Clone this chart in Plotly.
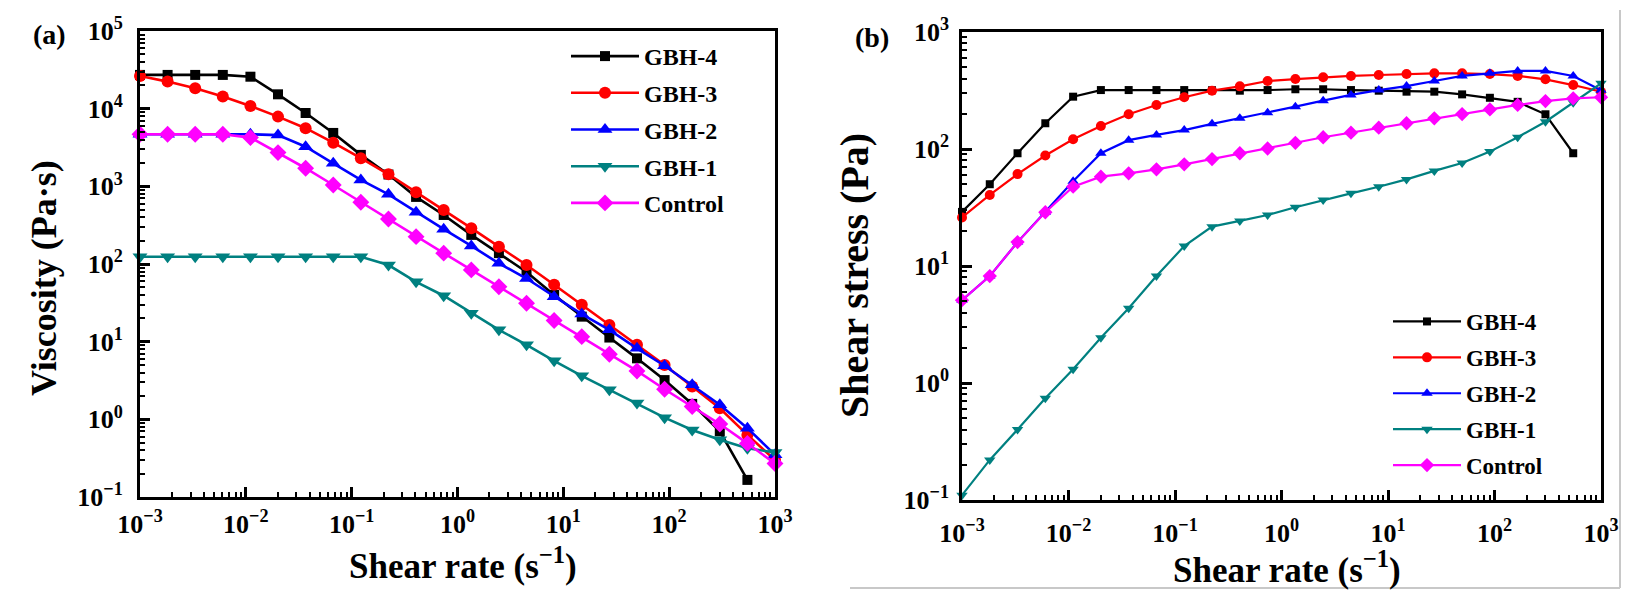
import plotly.graph_objects as go

W, H = 1625, 599

# ---------------- data ----------------
shear_rate = [0.001, 0.001823, 0.003323, 0.006058, 0.01105, 0.02014, 0.03673, 0.06697,
              0.1221, 0.2227, 0.4061, 0.7405, 1.350, 2.462, 4.490, 8.187, 14.93, 27.22,
              49.64, 90.51, 165.0, 300.9, 548.6, 1000.0]

series_names = ["GBH-4", "GBH-3", "GBH-2", "GBH-1", "Control"]

# (a) viscosity, Pa·s
visc_gbh4 = [27200, 27200, 27200, 27200, 25800, 15300, 8800, 4870, 2540, 1420, 731, 428, 237,
             138, 79, 40, 21, 11.3, 6.1, 3.2, 1.58, 0.70, 0.166]
visc_gbh3 = [26400, 22300, 18300, 14300, 10800, 7900, 5600, 3650, 2300, 1430, 840, 497, 289,
             167, 97, 54, 29.8, 16.4, 9.1, 5.0, 2.65, 1.39, 0.63, 0.30]
visc_gbh2 = [4680, 4680, 4680, 4680, 4680, 4570, 3240, 1980, 1210, 790, 465, 281, 171,
             102, 65, 38, 22.7, 14.2, 8.2, 4.9, 2.78, 1.54, 0.77, 0.35]
visc_gbh1 = [124, 124, 124, 124, 124, 124, 124, 124, 124, 97, 59, 39, 23.3,
             14.2, 9.1, 5.66, 3.63, 2.40, 1.62, 1.05, 0.73, 0.545, 0.425, 0.374]
visc_control = [4680, 4680, 4680, 4680, 4240, 2720, 1710, 1040, 624, 380, 225, 138, 84,
                51, 31.3, 18.7, 11.6, 6.9, 4.2, 2.44, 1.46, 0.87, 0.49, 0.27]

# (b) shear stress, Pa
stress_gbh4 = [29, 50, 92, 166, 280, 319, 319, 319, 319, 318, 315, 319, 324,
               324, 319, 315, 309, 309, 293, 274, 253, 198, 92]
stress_gbh3 = [26, 40.5, 61, 88, 121, 157, 198, 238, 277, 315, 343, 381, 396,
               410, 421, 429, 437, 443, 443, 437, 421, 394, 352, 309]
stress_gbh2 = [5.1, 8.2, 16, 28.8, 53, 92, 119, 132, 145, 164, 183, 204, 230,
               259, 290, 319, 345, 381, 421, 443, 465, 465, 421, 318]
stress_gbh1 = [0.11, 0.22, 0.40, 0.74, 1.31, 2.44, 4.35, 8.2, 14.8, 21.7, 24.3, 27.3, 31.8,
               36.7, 41.8, 47.6, 55, 65, 76, 95, 126, 171, 249, 364]
stress_control = [5.1, 8.2, 16, 28.8, 47.6, 58, 62, 67, 74, 82, 92, 101, 113,
                  126, 138, 152, 166, 183, 199, 218, 238, 257, 271, 277]

x_tickvals = [1e-3, 1e-2, 1e-1, 1e0, 1e1, 1e2, 1e3]
x_ticktext = ["10<sup>−3</sup>", "10<sup>−2</sup>", "10<sup>−1</sup>", "10<sup>0</sup>",
              "10<sup>1</sup>", "10<sup>2</sup>", "10<sup>3</sup>"]
ya_tickvals = [1e-1, 1e0, 1e1, 1e2, 1e3, 1e4, 1e5]
ya_ticktext = ["10<sup>−1</sup>", "10<sup>0</sup>", "10<sup>1</sup>", "10<sup>2</sup>",
               "10<sup>3</sup>", "10<sup>4</sup>", "10<sup>5</sup>"]
yb_tickvals = [1e-1, 1e0, 1e1, 1e2, 1e3]
yb_ticktext = ["10<sup>−1</sup>", "10<sup>0</sup>", "10<sup>1</sup>", "10<sup>2</sup>",
               "10<sup>3</sup>"]

# ---------------- styles ----------------
FONT = "Liberation Serif"
colors = ["#000000", "#ff0000", "#0000ff", "#008080", "#ff00ff"]
symbols = ["square", "circle", "triangle-up", "triangle-down", "diamond"]
sizes_a = [10, 12, 13, 13, 13]
sizes_b = [8, 10, 10, 10, 11]

def px(x):
    return x / W

def py(y):
    return 1 - y / H

fig = go.Figure()

visc = [visc_gbh4, visc_gbh3, visc_gbh2, visc_gbh1, visc_control]
stress = [stress_gbh4, stress_gbh3, stress_gbh2, stress_gbh1, stress_control]

for i, name in enumerate(series_names):
    ys = visc[i]
    fig.add_trace(go.Scatter(
        x=shear_rate[:len(ys)], y=ys, name=name, mode="lines+markers",
        xaxis="x", yaxis="y", legend="legend", legendgroup=f"a{i}", cliponaxis=False,
        line=dict(color=colors[i], width=2.6),
        marker=dict(symbol=symbols[i], size=sizes_a[i], color=colors[i]),
    ))

for i, name in enumerate(series_names):
    ys = stress[i]
    fig.add_trace(go.Scatter(
        x=shear_rate[:len(ys)], y=ys, name=name, mode="lines+markers",
        xaxis="x2", yaxis="y2", legend="legend2", legendgroup=f"b{i}", cliponaxis=False,
        line=dict(color=colors[i], width=2.2),
        marker=dict(symbol=symbols[i], size=sizes_b[i], color=colors[i]),
    ))


def axis(lw, tickvals, ticktext, rng, domain, anchor, standoff, fs=26):
    return dict(
        type="log", range=rng, domain=domain, anchor=anchor, automargin=False,
        showline=True, linecolor="black", linewidth=lw, mirror=True,
        ticks="inside", ticklen=10, tickwidth=lw, tickcolor="black",
        minor=dict(ticks="inside", ticklen=5, tickwidth=2, tickcolor="black",
                   dtick="D1", showgrid=False),
        showgrid=False, zeroline=False,
        tickvals=tickvals, ticktext=ticktext,
        tickfont=dict(family=FONT, size=fs, color="black", weight="bold"),
        ticklabelstandoff=standoff,
    )

fig.update_layout(
    width=W, height=H, autosize=False,
    margin=dict(l=0, r=0, t=0, b=0, pad=0, autoexpand=False),
    paper_bgcolor="white", plot_bgcolor="white",
    xaxis=axis(3, x_tickvals, x_ticktext, [-3, 3], [px(140), px(775)], "y", 2),
    yaxis=axis(3, ya_tickvals, ya_ticktext, [-1, 5], [py(497), py(31)], "x", 9),
    xaxis2=axis(2.5, x_tickvals, x_ticktext, [-3, 3], [px(962), px(1601)], "y2", 8),
    yaxis2=axis(2.5, yb_tickvals, yb_ticktext, [-1, 3], [py(500), py(32)], "x2", 5),
    legend=dict(x=px(566), y=py(34), xanchor="left", yanchor="top",
                bgcolor="rgba(0,0,0,0)", borderwidth=0, itemwidth=68,
                font=dict(family=FONT, size=24, color="black", weight="bold"),
                traceorder="grouped", tracegroupgap=2.5),
    legend2=dict(x=px(1388), y=py(300), xanchor="left", yanchor="top",
                 bgcolor="rgba(0,0,0,0)", borderwidth=0, itemwidth=68,
                 font=dict(family=FONT, size=23, color="black", weight="bold"),
                 traceorder="grouped", tracegroupgap=3),
    showlegend=True,
)

ann_font = lambda s: dict(family=FONT, size=s, color="black", weight="bold")
annotations = [
    dict(text="(a)", x=px(49), y=py(34), font=ann_font(28)),
    dict(text="(b)", x=px(872), y=py(38), font=ann_font(28)),
    dict(text="Viscosity (Pa·s)", x=px(44), y=py(278), textangle=-90, font=ann_font(36)),
    dict(text="Shear stress (Pa)", x=px(855), y=py(276), textangle=-90, font=ann_font(40)),
    dict(text="Shear rate (s<sup>−1</sup>)", x=px(463), y=py(563), font=ann_font(35)),
    dict(text="Shear rate (s<sup>−1</sup>)", x=px(1287), y=py(567), font=ann_font(35)),
]
for a in annotations:
    a.update(xref="paper", yref="paper", showarrow=False, xanchor="center", yanchor="middle")
fig.update_layout(annotations=annotations)

# light grey frame around panel (b)
fig.add_shape(type="line", xref="paper", yref="paper", x0=px(850), x1=px(1620), y0=py(588), y1=py(588),
              line=dict(color="#c8c8c8", width=2))
fig.add_shape(type="line", xref="paper", yref="paper", x0=px(1620), x1=px(1620), y0=py(588), y1=py(10),
              line=dict(color="#c8c8c8", width=2))

fig.write_html("out.html", config={"displayModeBar": False},
               post_script=["document.body.style.margin='0px';"])
